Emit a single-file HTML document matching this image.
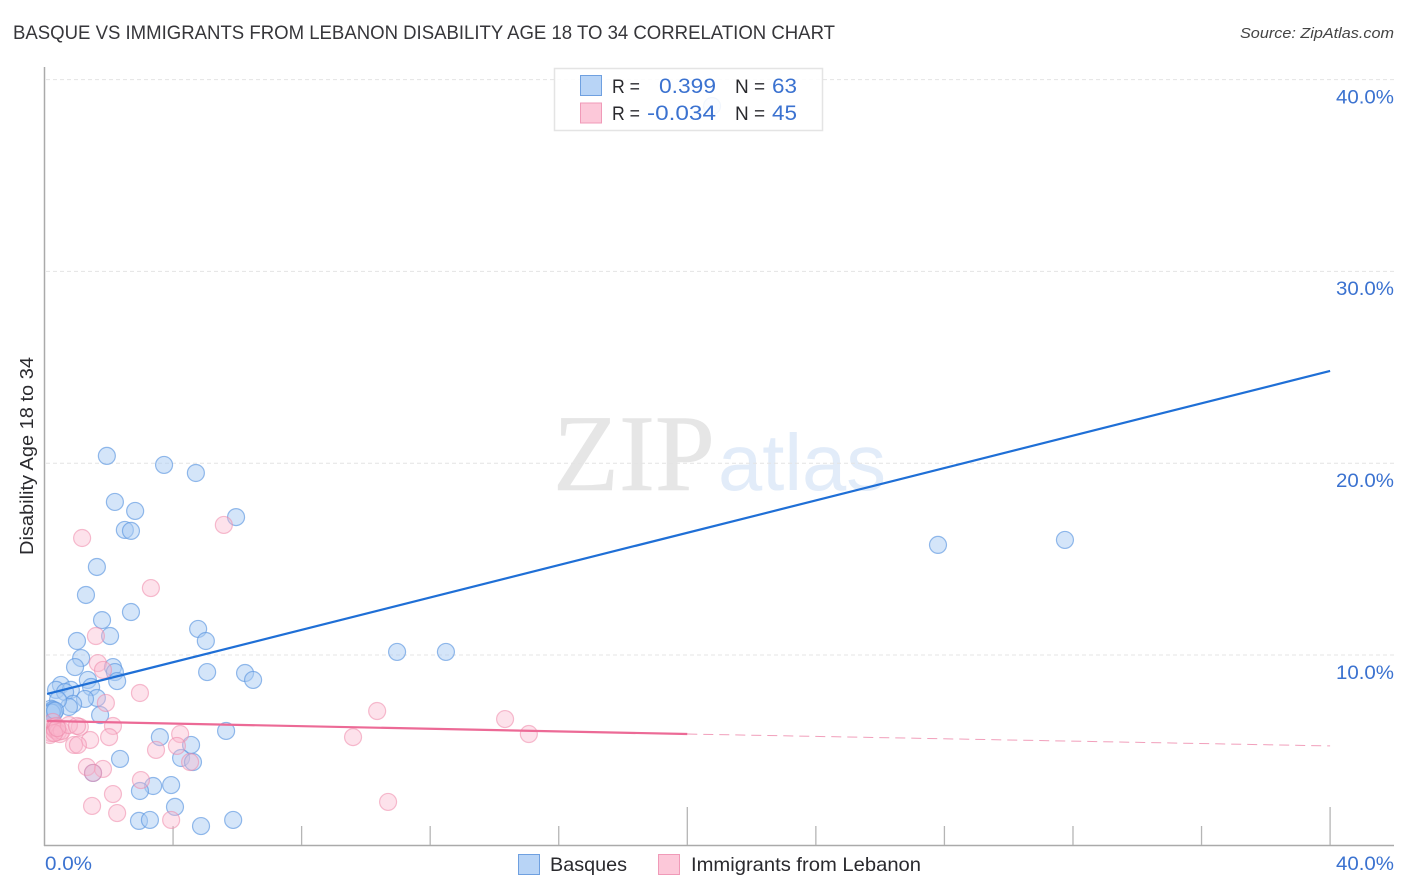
<!DOCTYPE html>
<html lang="en">
<head>
<meta charset="utf-8">
<title>Basque vs Immigrants from Lebanon Disability Age 18 to 34 Correlation Chart</title>
<style>
html,body{margin:0;padding:0;background:#fff;width:1406px;height:892px;overflow:hidden}
svg{display:block;font-family:"Liberation Sans",sans-serif}
</style>
</head>
<body>
<svg id="chart" width="1406" height="892" viewBox="0 0 1406 892" xmlns="http://www.w3.org/2000/svg">
  <defs>
    <clipPath id="plot-clip"><rect x="46" y="60" width="1348" height="785"/></clipPath>
  </defs>
  <text x="13" y="39" font-size="19" fill="#36363a" textLength="822" lengthAdjust="spacingAndGlyphs">BASQUE VS IMMIGRANTS FROM LEBANON DISABILITY AGE 18 TO 34 CORRELATION CHART</text>
  <text x="1394" y="38" font-size="15" font-style="italic" fill="#444" text-anchor="end" textLength="154" lengthAdjust="spacingAndGlyphs">Source: ZipAtlas.com</text>

  <g>
    <text x="553" y="490" font-family="'Liberation Serif',serif" font-size="109" fill="#e6e6e6" stroke="#e6e6e6" stroke-width="0.6" textLength="162" lengthAdjust="spacingAndGlyphs">ZIP</text>
    <text x="718" y="490" font-family="'Liberation Sans',sans-serif" font-size="80" fill="#e2ecf9" textLength="168" lengthAdjust="spacingAndGlyphs">atlas</text>
  </g>

  <g id="grid"></g>
  <g id="yticks"></g>
  <g id="axes"></g>
  <g id="points" clip-path="url(#plot-clip)"></g>
  <g id="trends"></g>

  <text transform="translate(33,456) rotate(-90)" font-size="18.5" fill="#2a2a2e" text-anchor="middle" textLength="198" lengthAdjust="spacingAndGlyphs">Disability Age 18 to 34</text>
  <text x="45" y="870" font-size="19" fill="#3b72d0" textLength="47" lengthAdjust="spacingAndGlyphs">0.0%</text>
  <text x="1394" y="870" font-size="19" fill="#3b72d0" text-anchor="end" textLength="58" lengthAdjust="spacingAndGlyphs">40.0%</text>

  <g>
    <rect x="554.5" y="68.5" width="268" height="62" fill="#fff" fill-opacity="0.88" stroke="#e4e4e4" stroke-width="1.5"/>
    <rect x="580.5" y="75.5" width="21" height="20" fill="#b8d4f6" stroke="#6fa0e0" stroke-width="1"/>
    <rect x="580.5" y="103" width="21" height="20" fill="#fcc8d9" stroke="#f09ab8" stroke-width="1"/>
    <text x="612" y="93" font-size="19" fill="#2a2a2e" textLength="28" lengthAdjust="spacingAndGlyphs">R =</text>
    <text x="716" y="93" font-size="21.5" fill="#3b72d0" text-anchor="end" textLength="57" lengthAdjust="spacingAndGlyphs">0.399</text>
    <text x="735" y="93" font-size="19" fill="#2a2a2e">N =</text>
    <text x="797" y="93" font-size="21.5" fill="#3b72d0" text-anchor="end" textLength="25" lengthAdjust="spacingAndGlyphs">63</text>
    <text x="612" y="120" font-size="19" fill="#2a2a2e" textLength="28" lengthAdjust="spacingAndGlyphs">R =</text>
    <text x="716" y="120" font-size="21.5" fill="#3b72d0" text-anchor="end" textLength="69" lengthAdjust="spacingAndGlyphs">-0.034</text>
    <text x="735" y="120" font-size="19" fill="#2a2a2e">N =</text>
    <text x="797" y="120" font-size="21.5" fill="#3b72d0" text-anchor="end" textLength="25" lengthAdjust="spacingAndGlyphs">45</text>
  </g>

  <g>
    <rect x="518.5" y="854.5" width="21" height="20" fill="#b8d4f6" stroke="#6fa0e0" stroke-width="1"/>
    <text x="550" y="871" font-size="19.5" fill="#2a2a2e" textLength="77" lengthAdjust="spacingAndGlyphs">Basques</text>
    <rect x="658.5" y="854.5" width="21" height="20" fill="#fcc8d9" stroke="#f09ab8" stroke-width="1"/>
    <text x="691" y="871" font-size="19.5" fill="#2a2a2e" textLength="230" lengthAdjust="spacingAndGlyphs">Immigrants from Lebanon</text>
  </g>
</svg>
<script>
const xTickValues = [0, 4, 8, 12, 16, 20, 24, 28, 32, 36, 40];
const xMajorTicks = [20, 40];
const yTickValues = [10, 20, 30, 40];
const yTickLabels = ["10.0%", "20.0%", "30.0%", "40.0%"];

const basqueX = [20.77,1.94,3.72,4.71,2.19,2.82,2.50,2.69,5.96,1.63,1.29,2.69,1.79,4.78,2.04,1.01,5.02,1.14,0.95,2.13,2.19,2.26,5.06,6.24,6.49,1.35,1.45,0.51,0.36,0.82,0.64,1.63,1.26,0.89,0.76,0.42,1.73,5.65,3.59,4.56,2.35,4.25,4.62,1.51,3.94,3.38,2.97,4.06,2.94,3.28,4.87,5.87,10.97,12.49,27.80,31.75,0.20,0.24,0.27,0.30,0.26,0.22,0.33];
const basqueY = [38.62,20.38,19.91,19.49,17.98,17.51,16.52,16.47,17.19,14.59,13.13,12.24,11.82,11.36,10.99,10.73,10.73,9.84,9.37,9.37,9.11,8.64,9.11,9.06,8.70,8.70,8.33,8.44,8.18,8.18,8.07,7.76,7.71,7.45,7.29,7.65,6.87,6.04,5.72,5.31,4.58,4.63,4.42,3.85,3.22,3.17,2.91,2.08,1.35,1.40,1.08,1.40,10.16,10.16,15.74,16.00,7.20,7.05,7.10,7.00,7.15,7.00,7.10];

const lebanonX = [1.17,3.31,5.58,1.60,1.66,1.82,2.97,1.91,2.13,2.01,1.42,1.10,0.92,1.04,4.22,4.12,3.47,4.53,1.32,1.82,1.51,3.00,2.13,1.48,2.26,3.94,9.60,10.35,14.33,15.07,10.69,0.20,0.25,0.17,0.30,0.26,0.33,0.36,0.42,0.48,0.54,0.30,0.76,0.40,1.01];
const lebanonY = [16.10,13.49,16.78,10.99,9.58,9.22,8.02,7.50,6.30,5.72,5.57,6.25,5.31,5.31,5.88,5.26,5.05,4.42,4.16,4.06,3.85,3.48,2.75,2.13,1.76,1.40,5.72,7.08,6.66,5.88,2.34,5.93,6.25,5.83,6.19,6.51,6.09,6.30,5.99,5.88,6.04,5.93,6.35,6.19,6.30];

const basqueTrendX = [0.08, 40];
const basqueTrendY = [7.97, 24.81];
const lebanonTrendX = [0.08, 20];
const lebanonTrendY = [6.56, 5.88];
const lebanonDashX = [20, 40];
const lebanonDashY = [5.88, 5.26];

const NS = "http://www.w3.org/2000/svg";
const sx = v => 44.5 + v * 32.14;
const sy = v => 846.8 - v * 19.18;

function make(tag, attrs, parent) {
  const el = document.createElementNS(NS, tag);
  Object.keys(attrs).forEach(k => el.setAttribute(k, attrs[k]));
  parent.appendChild(el);
  return el;
}

const grid = document.getElementById("grid");
const yticks = document.getElementById("yticks");
const axes = document.getElementById("axes");
const points = document.getElementById("points");
const trends = document.getElementById("trends");

yTickValues.forEach((v, i) => {
  const line = make("line", {x1: 46, x2: 1394, y1: sy(v), y2: sy(v), stroke: "#e4e4e4", "stroke-width": 1, "stroke-dasharray": "4 3"}, grid);
  
  
  const label = make("text", {x: 1394, y: sy(v) + 23.8, "font-size": 19, fill: "#3b72d0", "text-anchor": "end", textLength: 58, lengthAdjust: "spacingAndGlyphs"}, yticks);
  label.textContent = yTickLabels[i];
  
  
});

const yAxisLine = make("line", {x1: 44.5, x2: 44.5, y1: 67, y2: 846, stroke: "#aaaaaa", "stroke-width": 1.5}, axes);


const xAxisLine = make("line", {x1: 44, x2: 1394, y1: 845.5, y2: 845.5, stroke: "#aaaaaa", "stroke-width": 1.5}, axes);



xTickValues.forEach(v => {
  if (v === 0) return;
  const top = xMajorTicks.includes(v) ? 807 : 826;
  const tick = make("line", {x1: sx(v), x2: sx(v), y1: top, y2: 845, stroke: "#b5b5b5", "stroke-width": 1.3}, axes);
  
  
});

basqueX.forEach((v, i) => {
  const c = make("circle", {cx: sx(v), cy: sy(basqueY[i]), r: 8.5, fill: "#a9cbf3", "fill-opacity": 0.5, stroke: "#5c96e0", "stroke-opacity": 0.65, "stroke-width": 1.2}, points);
  
  
});

lebanonX.forEach((v, i) => {
  const c = make("circle", {cx: sx(v), cy: sy(lebanonY[i]), r: 8.5, fill: "#f9b6cc", "fill-opacity": 0.4, stroke: "#ee88aa", "stroke-opacity": 0.55, "stroke-width": 1.2}, points);
  
  
});

const blueTrend = make("line", {x1: sx(basqueTrendX[0]), y1: sy(basqueTrendY[0]), x2: sx(basqueTrendX[1]), y2: sy(basqueTrendY[1]), stroke: "#1f6fd6", "stroke-width": 2.2}, trends);



const pinkTrend = make("line", {x1: sx(lebanonTrendX[0]), y1: sy(lebanonTrendY[0]), x2: sx(lebanonTrendX[1]), y2: sy(lebanonTrendY[1]), stroke: "#ec6a96", "stroke-width": 2.2}, trends);



const pinkDash = make("line", {x1: sx(lebanonDashX[0]), y1: sy(lebanonDashY[0]), x2: sx(lebanonDashX[1]), y2: sy(lebanonDashY[1]), stroke: "#ec7fa4", "stroke-width": 1, "stroke-opacity": 0.75, "stroke-dasharray": "10 6"}, trends);


</script>
</body>
</html>
